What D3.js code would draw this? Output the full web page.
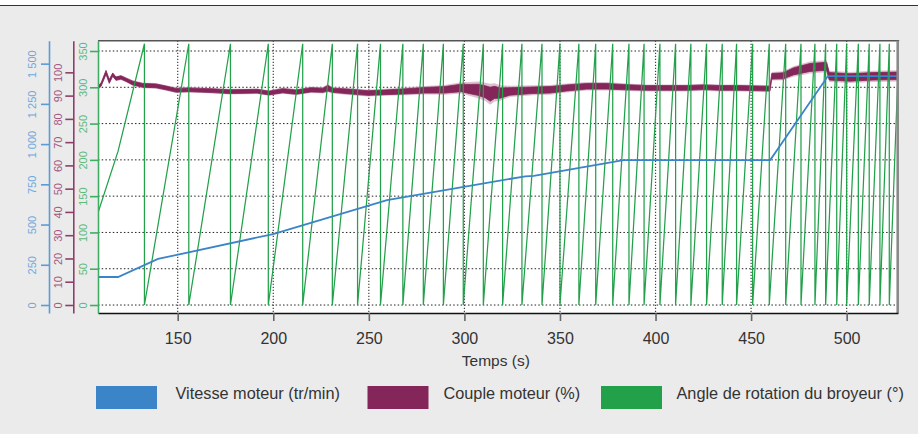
<!DOCTYPE html>
<html><head><meta charset="utf-8">
<script src="https://cdn.jsdelivr.net/npm/d3@7"></script>
<style>
html,body{margin:0;padding:0;background:#fff;}
svg{display:block;font-family:"Liberation Sans",Arial,Helvetica,sans-serif;}
</style></head><body>
<svg id="chart" width="918" height="434"></svg>
<script>
// ---- axes ticks ----
const timeTicks = [150, 200, 250, 300, 350, 400, 450, 500];
const angleTicks = [0, 50, 100, 150, 200, 250, 300, 350];
const torqueTicks = [0, 10, 20, 30, 40, 50, 60, 70, 80, 90, 100];
const speedTicks = [0, 250, 500, 750, 1000, 1250, 1500];
const speedTickLabels = ["0", "250", "500", "750", "1 000", "1 250", "1 500"];

// ---- motor speed (tr/min) ----
const speedTime = [108.3, 118.8, 139.7, 199.9, 259.5, 331.8, 336.3, 383.2, 460.0, 490.2, 526.7];
const speedRpm  = [174, 174, 286, 441, 652, 800, 803, 901, 901, 1423, 1423];

// ---- motor torque (%): mid value and half-spread of the recorded band ----
const torqueTime = [108.3, 109.9, 112.5, 114.2, 116.0, 117.7, 120.3, 123.0, 126.5, 131.7, 138.6, 143.9, 149.1, 155.9, 162.0,
  168.3, 176.8, 185.7, 191.5, 197.8, 204.9, 211.9, 219.7, 226.0, 228.6, 231.0, 239.1, 249.6, 258.3, 268.8, 279.2, 289.7, 298.4,
  303.0, 307.1, 311.0, 313.5, 315.8, 318.7, 323.8, 335.9, 344.8, 353.5, 364.0, 374.4, 384.9, 395.4, 405.8, 416.3, 425.0,
  433.7, 444.2, 459.9, 460.8, 466.8, 472.1, 480.8, 489.5, 490.9, 501.7, 513.9, 526.7];
const torqueMid = [93.5, 94.7, 100.0, 96.1, 99.0, 97.3, 97.8, 96.8, 95.4, 94.4, 94.2, 93.3, 92.3, 92.5, 92.3,
  92.1, 91.7, 91.8, 91.9, 91.1, 92.1, 91.5, 92.5, 92.3, 93.2, 92.3, 91.8, 91.1, 91.4, 91.8, 92.3, 92.5, 93.3,
  92.8, 92.5, 91.6, 90.6, 91.4, 91.1, 91.8, 92.3, 92.5, 93.3, 94.0, 94.0, 93.6, 93.3, 93.3, 93.3, 93.6,
  93.3, 93.3, 93.0, 98.3, 98.5, 100.4, 102.1, 102.6, 98.3, 97.8, 98.3, 98.5];
const torqueSpread = [0.6, 0.7, 0.8, 0.8, 0.7, 0.7, 0.7, 0.7, 0.8, 0.8, 0.8, 0.8, 0.8, 0.8, 0.8,
  0.8, 0.8, 0.8, 0.8, 0.8, 0.9, 0.9, 0.9, 0.9, 1.2, 0.9, 1.0, 1.0, 1.0, 1.1, 1.2, 1.4, 1.6,
  2.0, 2.4, 2.6, 3.0, 2.6, 2.2, 1.6, 1.4, 1.4, 1.3, 1.2, 1.2, 1.1, 1.0, 1.0, 1.0, 1.0,
  1.0, 1.0, 1.0, 1.2, 1.3, 1.5, 1.7, 1.7, 1.6, 1.6, 1.6, 1.6];

// ---- crusher rotation angle (deg): start, times at which it wraps 360 -> 0, end ----
const angleStartTime = [108.3, 118.8];
const angleStartDeg  = [127, 212];
const angleWrapTimes = [132.6, 155.8, 177.6, 197.4, 215.4, 230.9, 244.1, 256.1, 267.8, 278.5, 289.0, 299.4,
  309.9, 320.0, 330.1, 340.6, 350.0, 359.9, 368.7, 377.6, 386.1, 394.0, 402.3, 410.5, 418.5, 426.7, 434.9,
  442.4, 450.8, 459.5, 468.1, 476.1, 483.4, 489.0, 494.8, 500.0, 506.1, 511.8, 517.4, 522.3];
const angleEndTime = 526.7;
const angleEndDeg = 310;

const legendLabels = ["Vitesse moteur (tr/min)", "Couple moteur (%)", "Angle de rotation du broyeur (°)"];

// ---- colours ----
const cBlue = "#3b84c8", cMag = "#84265a", cGreen = "#22a04a";
const cBlueAxis = "#5b9bd8", cMagAxis = "#8f3d6b", cGreenAxis = "#3fae62";
const cBlueText = "#6ea9df", cMagText = "#a3587f", cGreenText = "#5dba7b";

const W = 918, H = 434;
const plot = {left: 98, right: 897.7, top: 40.7, bottom: 313};

const svg = d3.select("#chart");

// page background
svg.append("rect").attr("x", 0).attr("y", 0).attr("width", W).attr("height", H).attr("fill", "#ebebeb");
svg.append("rect").attr("x", 0).attr("y", 0).attr("width", W).attr("height", 5).attr("fill", "#ffffff");
svg.append("line").attr("x1", 0).attr("x2", W).attr("y1", 5.5).attr("y2", 5.5).attr("stroke", "#333").attr("stroke-width", 1);

// scales
const x = d3.scaleLinear().domain([108.3, 526.7]).range([plot.left, plot.right]);
const yAngle = d3.scaleLinear().domain([-11.0, 364.2]).range([plot.bottom, plot.top]);
const yTorque = d3.scaleLinear().domain([-3.44, 113.6]).range([plot.bottom, plot.top]);
const ySpeed = d3.scaleLinear().domain([-49.7, 1642.6]).range([plot.bottom, plot.top]);

// plot area
svg.append("rect").attr("x", plot.left).attr("y", plot.top)
  .attr("width", plot.right - plot.left).attr("height", plot.bottom - plot.top).attr("fill", "#fff");

// grid
const grid = svg.append("g");
grid.selectAll("line.h").data(angleTicks).join("line")
  .attr("x1", plot.left).attr("x2", plot.right)
  .attr("y1", d => yAngle(d)).attr("y2", d => yAngle(d))
  .attr("stroke", "#222").attr("stroke-width", 1).attr("stroke-dasharray", "1.5,2.2");
grid.selectAll("line.v").data(timeTicks).join("line")
  .attr("x1", d => x(d)).attr("x2", d => x(d))
  .attr("y1", plot.top).attr("y2", plot.bottom)
  .attr("stroke", "#444").attr("stroke-width", 1.2).attr("stroke-dasharray", "1.2,1.8");

const clip = svg.append("clipPath").attr("id", "clip").append("rect")
  .attr("x", plot.left).attr("y", plot.top).attr("width", plot.right - plot.left).attr("height", plot.bottom - plot.top);
const series = svg.append("g").attr("clip-path", "url(#clip)");

// torque band
const torqueData = torqueTime.map((t, i) => ({t, m: torqueMid[i], s: torqueSpread[i]}));
series.append("path").datum(torqueData)
  .attr("d", d3.area().x(d => x(d.t)).y0(d => yTorque(d.m - d.s * 1.5)).y1(d => yTorque(d.m + d.s * 1.5)))
  .attr("fill", "#d2aac0").attr("opacity", 0.75);
series.append("path").datum(torqueData)
  .attr("d", d3.area().x(d => x(d.t)).y0(d => yTorque(d.m - d.s)).y1(d => yTorque(d.m + d.s)))
  .attr("fill", cMag).attr("stroke", cMag).attr("stroke-width", 0.8);

// angle sawtooth
const anglePts = angleStartTime.map((t, i) => [t, angleStartDeg[i]]);
angleWrapTimes.forEach(t => { anglePts.push([t, 360]); anglePts.push([t, 0]); });
anglePts.push([angleEndTime, angleEndDeg]);
series.append("path").datum(anglePts)
  .attr("d", d3.line().x(d => x(d[0])).y(d => yAngle(d[1])))
  .attr("fill", "none").attr("stroke", cGreen).attr("stroke-width", 1.25);

// speed
series.append("path").datum(speedTime.map((t, i) => [t, speedRpm[i]]))
  .attr("d", d3.line().x(d => x(d[0])).y(d => ySpeed(d[1])))
  .attr("fill", "none").attr("stroke", cBlue).attr("stroke-width", 1.8);

// frame
svg.append("line").attr("x1", plot.left).attr("x2", plot.right + 1.5).attr("y1", plot.top).attr("y2", plot.top)
  .attr("stroke", "#555").attr("stroke-width", 1.6);
svg.append("line").attr("x1", plot.right).attr("x2", plot.right).attr("y1", plot.top).attr("y2", plot.bottom + 1)
  .attr("stroke", "#8a8a8a").attr("stroke-width", 2.6);

// x axis
const xAxis = svg.append("g").attr("transform", `translate(0,${plot.bottom})`)
  .call(d3.axisBottom(x).tickValues(timeTicks).tickSize(8).tickSizeOuter(0).tickPadding(12));
xAxis.select(".domain").attr("stroke", "#111").attr("stroke-width", 1.6);
xAxis.selectAll(".tick line").attr("stroke", "#666").attr("stroke-width", 1.6);
xAxis.selectAll(".tick text").attr("fill", "#333").attr("font-size", 16).attr("font-family", "Liberation Sans, Arial, sans-serif");
svg.append("text").attr("x", (plot.left + plot.right) / 2 - 2).attr("y", 366)
  .attr("text-anchor", "middle").attr("font-size", 15.5).attr("fill", "#333").text("Temps (s)");

// left y axes with rotated labels
function yAxis(scale, ticks, labels, xPos, lineColor, textColor, textOffset) {
  const g = svg.append("g").attr("transform", `translate(${xPos},0)`)
    .call(d3.axisLeft(scale).tickValues(ticks).tickFormat((d, i) => labels[i]).tickSize(8).tickSizeOuter(0));
  g.select(".domain").attr("stroke", lineColor).attr("stroke-width", 1.6);
  g.selectAll(".tick line").attr("stroke", lineColor).attr("stroke-width", 1.6);
  g.selectAll(".tick text")
    .attr("x", 0).attr("dy", 0).attr("text-anchor", "middle")
    .attr("transform", `translate(${textOffset},0) rotate(-90)`)
    .attr("fill", textColor).attr("font-size", 11).attr("font-family", "Liberation Sans, Arial, sans-serif");
  return g;
}
yAxis(ySpeed, speedTicks, speedTickLabels, 49, cBlueAxis, cBlueText, -12.7);
yAxis(yTorque, torqueTicks, torqueTicks.map(String), 73.3, cMagAxis, cMagText, -11);
yAxis(yAngle, angleTicks, angleTicks.map(String), plot.left, cGreenAxis, cGreenText, -10.7);

// legend
const legendColors = [cBlue, cMag, cGreen];
const legendBoxX = [96, 367.5, 601];
const legendTextX = [175.5, 443.5, 676.5];
const legend = svg.append("g");
legendLabels.forEach((lab, i) => {
  legend.append("rect").attr("x", legendBoxX[i]).attr("y", 386).attr("width", 61).attr("height", 23).attr("fill", legendColors[i]);
  legend.append("text").attr("x", legendTextX[i]).attr("y", 398.5).attr("font-size", 16.3).attr("fill", "#333").text(lab);
});
</script>
</body></html>
